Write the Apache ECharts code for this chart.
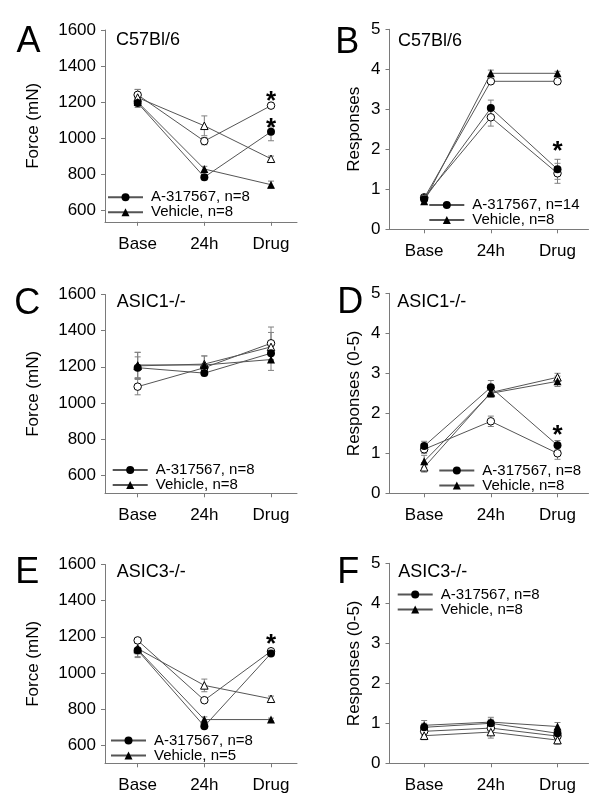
<!DOCTYPE html>
<html><head><meta charset="utf-8">
<script src="https://cdn.jsdelivr.net/npm/echarts@6/dist/echarts.min.js"></script>
<style>html,body{margin:0;padding:0;background:#fff}#c{width:600px;height:807px}</style>
</head><body><div id="c"></div>
<script>
// ---------- DATA ----------
const categories = ['Base', '24h', 'Drug'];
const forceTicks = [600, 800, 1000, 1200, 1400, 1600];
const respTicks = [0, 1, 2, 3, 4, 5];

// Panel A (C57Bl/6, force)
const legendA = ['A-317567, n=8', 'Vehicle, n=8'];
const A_drug = [1195, 783, 1035];        const A_drugErr = [25, 15, 50];
const A_vehicle = [1200, 828, 741];      const A_vehicleErr = [20, 15, 20];
const A_drugOpen = [1240, 983, 1180];    const A_drugOpenErr = [30, 20, 15];
const A_vehicleOpen = [1225, 1068, 885]; const A_vehicleOpenErr = [45, 55, 15];
const A_stars = [[2, 1235], [2, 1082]];

// Panel B (C57Bl/6, responses)
const legendB = ['A-317567, n=14', 'Vehicle, n=8'];
const B_drug = [0.75, 3.03, 1.5];        const B_drugErr = [0.05, 0.2, 0.25];
const B_vehicle = [0.7, 3.9, 3.9];       const B_vehicleErr = [0.05, 0.08, 0.05];
const B_drugOpen = [0.8, 2.8, 1.4];      const B_drugOpenErr = [0.05, 0.22, 0.25];
const B_vehicleOpen = [0.78, 3.7, 3.7];  const B_vehicleOpenErr = [0.05, 0.05, 0.06];
const B_stars = [[2, 2.08]];

// Panel C (ASIC1-/-, force)
const legendC = ['A-317567, n=8', 'Vehicle, n=8'];
const C_drug = [1195, 1165, 1275];       const C_drugErr = [60, 15, 40];
const C_vehicle = [1210, 1210, 1240];    const C_vehicleErr = [70, 50, 60];
const C_drugOpen = [1090, 1195, 1330];   const C_drugOpenErr = [45, 20, 90];
const C_vehicleOpen = [1205, 1215, 1310];const C_vehicleOpenErr = [75, 45, 80];
const C_stars = [];

// Panel D (ASIC1-/-, responses)
const legendD = ['A-317567, n=8', 'Vehicle, n=8'];
const D_drug = [1.18, 2.65, 1.2];        const D_drugErr = [0.12, 0.17, 0.12];
const D_vehicle = [0.8, 2.5, 2.8];       const D_vehicleErr = [0.15, 0.1, 0.13];
const D_drugOpen = [1.1, 1.8, 1.0];      const D_drugOpenErr = [0.1, 0.13, 0.15];
const D_vehicleOpen = [0.65, 2.52, 2.9]; const D_vehicleOpenErr = [0.12, 0.1, 0.1];
const D_stars = [[2, 1.59]];

// Panel E (ASIC3-/-, force)
const legendE = ['A-317567, n=8', 'Vehicle, n=5'];
const E_drug = [1125, 705, 1108];        const E_drugErr = [40, 10, 10];
const E_vehicle = [1130, 742, 742];      const E_vehicleErr = [40, 15, 8];
const E_drugOpen = [1180, 849, 1120];    const E_drugOpenErr = [10, 10, 10];
const E_vehicleOpen = [1135, 931, 857];  const E_vehicleOpenErr = [30, 35, 15];
const E_stars = [[2, 1186]];

// Panel F (ASIC3-/-, responses)
const legendF = ['A-317567, n=8', 'Vehicle, n=8'];
const F_drug = [0.9, 1.0, 0.75];         const F_drugErr = [0.1, 0.1, 0.1];
const F_vehicle = [0.95, 1.03, 0.92];    const F_vehicleErr = [0.12, 0.12, 0.1];
const F_drugOpen = [0.8, 0.88, 0.68];    const F_drugOpenErr = [0.1, 0.12, 0.1];
const F_vehicleOpen = [0.69, 0.78, 0.58];const F_vehicleOpenErr = [0.1, 0.15, 0.1];
const F_stars = [];

// ---------- LAYOUT ----------
const FONT = 'Liberation Sans, Arial, sans-serif';
const panels = [
  {key:'A', title:'C57Bl/6', grid:{left:105, top:30, width:192, height:191.8}, xr:[-0.49, 2.39], yr:[535, 1600], ticks:forceTicks, yName:'Force (mN)', gap:63,
   legend:legendA, lg:{left:107, top:189.7}, tpos:[116, 40], lpos:[16.5, 42],
   s:[[A_drugOpen,A_drugOpenErr,'emptyCircle'],[A_vehicleOpen,A_vehicleOpenErr,'emptyTriangle'],[A_vehicle,A_vehicleErr,'triangle',1],[A_drug,A_drugErr,'circle',0]], stars:A_stars},
  {key:'B', title:'C57Bl/6', grid:{left:389.5, top:29.3, width:199, height:200}, xr:[-0.52, 2.465], yr:[0, 5], ticks:respTicks, yName:'Responses', gap:27,
   legend:legendB, lg:{left:428.3, top:197.5}, tpos:[398, 41], lpos:[335.3, 43],
   s:[[B_drugOpen,B_drugOpenErr,'emptyCircle'],[B_vehicleOpen,B_vehicleOpenErr,'emptyCircle'],[B_vehicle,B_vehicleErr,'triangle',1],[B_drug,B_drugErr,'circle',0]], stars:B_stars},
  {key:'C', title:'ASIC1-/-', grid:{left:105, top:294.5, width:192, height:198.8}, xr:[-0.49, 2.39], yr:[500, 1600], ticks:forceTicks, yName:'Force (mN)', gap:63,
   legend:legendC, lg:{left:111.7, top:462.5}, tpos:[116.7, 302.3], lpos:[14.2, 304],
   s:[[C_drugOpen,C_drugOpenErr,'emptyCircle'],[C_vehicleOpen,C_vehicleOpenErr,'emptyTriangle'],[C_vehicle,C_vehicleErr,'triangle',1],[C_drug,C_drugErr,'circle',0]], stars:C_stars},
  {key:'D', title:'ASIC1-/-', grid:{left:389.5, top:293.3, width:199, height:200}, xr:[-0.52, 2.465], yr:[0, 5], ticks:respTicks, yName:'Responses (0-5)', gap:27,
   legend:legendD, lg:{left:438.3, top:463}, tpos:[397.3, 301.7], lpos:[337.2, 303.5],
   s:[[D_drugOpen,D_drugOpenErr,'emptyCircle'],[D_vehicleOpen,D_vehicleOpenErr,'emptyTriangle'],[D_vehicle,D_vehicleErr,'triangle',1],[D_drug,D_drugErr,'circle',0]], stars:D_stars},
  {key:'E', title:'ASIC3-/-', grid:{left:105, top:564.5, width:192, height:198.8}, xr:[-0.49, 2.39], yr:[500, 1600], ticks:forceTicks, yName:'Force (mN)', gap:63,
   legend:legendE, lg:{left:110, top:733}, tpos:[116.7, 572.3], lpos:[15.2, 573.5],
   s:[[E_drugOpen,E_drugOpenErr,'emptyCircle'],[E_vehicleOpen,E_vehicleOpenErr,'emptyTriangle'],[E_vehicle,E_vehicleErr,'triangle',1],[E_drug,E_drugErr,'circle',0]], stars:E_stars},
  {key:'F', title:'ASIC3-/-', grid:{left:389.5, top:563.3, width:199, height:200}, xr:[-0.52, 2.465], yr:[0, 5], ticks:respTicks, yName:'Responses (0-5)', gap:27,
   legend:legendF, lg:{left:396.7, top:587}, tpos:[398.3, 572.3], lpos:[337.2, 573.5],
   s:[[F_drugOpen,F_drugOpenErr,'emptyCircle'],[F_vehicleOpen,F_vehicleOpenErr,'emptyTriangle'],[F_vehicle,F_vehicleErr,'triangle',1],[F_drug,F_drugErr,'circle',0]], stars:F_stars}
];

const grids = [], xAxes = [], yAxes = [], series = [], legends = [], graphics = [];
const AXC = '#7a7a7a';

function errRender(params, api) {
  const x = api.value(0), v = api.value(1), e = api.value(2);
  const t = api.coord([x, v + e]), b = api.coord([x, v - e]);
  const w = 3, st = {stroke: '#808080', lineWidth: 1};
  return {type: 'group', children: [
    {type: 'line', shape: {x1: t[0], y1: t[1], x2: b[0], y2: b[1]}, style: st},
    {type: 'line', shape: {x1: t[0] - w, y1: t[1], x2: t[0] + w, y2: t[1]}, style: st},
    {type: 'line', shape: {x1: b[0] - w, y1: b[1], x2: b[0] + w, y2: b[1]}, style: st}
  ]};
}
function starRender(params, api) {
  const p = api.coord([api.value(0), api.value(1)]);
  const fs = 26;
  return {type: 'text', x: p[0], y: p[1] + 0.22 * fs,
    style: {text: '*', fontSize: fs, fontWeight: 'bold', fontFamily: FONT, fill: '#000', align: 'center', verticalAlign: 'middle'}};
}

panels.forEach((p, i) => {
  grids.push(Object.assign({containLabel: false}, p.grid));
  xAxes.push({type: 'value', gridIndex: i, min: p.xr[0], max: p.xr[1],
    axisLine: {show: true, onZero: false, lineStyle: {color: AXC, width: 1}},
    axisTick: {show: true, length: 4, lineStyle: {color: AXC}, customValues: [0, 1, 2]},
    axisLabel: {customValues: [0, 1, 2], formatter: v => categories[Math.round(v)], fontSize: 17, fontFamily: FONT, color: '#000', margin: 14},
    splitLine: {show: false}});
  yAxes.push({type: 'value', gridIndex: i, min: p.yr[0], max: p.yr[1],
    name: p.yName, nameLocation: 'middle', nameGap: p.gap,
    nameTextStyle: {fontSize: 17, fontFamily: FONT, color: '#000'},
    axisLine: {show: true, onZero: false, lineStyle: {color: AXC, width: 1}},
    axisTick: {show: true, length: 4, lineStyle: {color: AXC}, customValues: p.ticks},
    axisLabel: {customValues: p.ticks, formatter: v => String(v), fontSize: 17, fontFamily: FONT, color: '#000', margin: 9},
    splitLine: {show: false}});
  p.s.forEach((sd, j) => {
    const [vals, errs, sym, legIdx] = sd;
    const name = legIdx === undefined ? (p.key + '-open-' + j) : p.legend[legIdx];
    const empty = sym.indexOf('empty') === 0;
    const shape = empty ? (sym === 'emptyCircle' ? 'circle' : 'triangle') : sym;
    series.push({type: 'custom', xAxisIndex: i, yAxisIndex: i, z: 1, silent: true,
      renderItem: errRender, encode: {x: 0, y: 1},
      data: vals.map((v, k) => [k, v, errs[k]])});
    series.push({type: 'line', name: name, xAxisIndex: i, yAxisIndex: i, z: 3 + j,
      symbol: shape, symbolSize: empty ? 7.5 : 8, showAllSymbol: true,
      lineStyle: {color: '#555', width: 1},
      itemStyle: empty ? {color: '#fff', borderColor: '#000', borderWidth: 1} : {color: '#000', borderWidth: 0},
      data: vals.map((v, k) => [k, v])});
  });
  if (p.stars.length) {
    series.push({type: 'custom', xAxisIndex: i, yAxisIndex: i, z: 10, silent: true,
      renderItem: starRender, encode: {x: 0, y: 1}, data: p.stars});
  }
  legends.push({orient: 'vertical', left: p.lg.left, top: p.lg.top, padding: 0, itemGap: 0,
    itemWidth: 35, itemHeight: 10, selectedMode: false, data: p.legend,
    textStyle: {fontSize: 15, fontFamily: FONT, color: '#000', lineHeight: 14, padding: [0, 0, 0, 3]}});
  graphics.push({type: 'text', x: p.tpos[0], y: p.tpos[1],
    style: {text: p.title, fontSize: 18, fontFamily: FONT, fill: '#000', align: 'left', verticalAlign: 'middle'}});
  graphics.push({type: 'text', x: p.lpos[0], y: p.lpos[1],
    style: {text: p.key, fontSize: 36, fontFamily: FONT, fill: '#000', align: 'left', verticalAlign: 'middle'}});
});

const chart = echarts.init(document.getElementById('c'), null, {renderer: 'canvas'});
chart.setOption({
  animation: false,
  backgroundColor: '#fff',
  grid: grids, xAxis: xAxes, yAxis: yAxes, legend: legends, series: series,
  graphic: graphics
});
</script></body></html>
